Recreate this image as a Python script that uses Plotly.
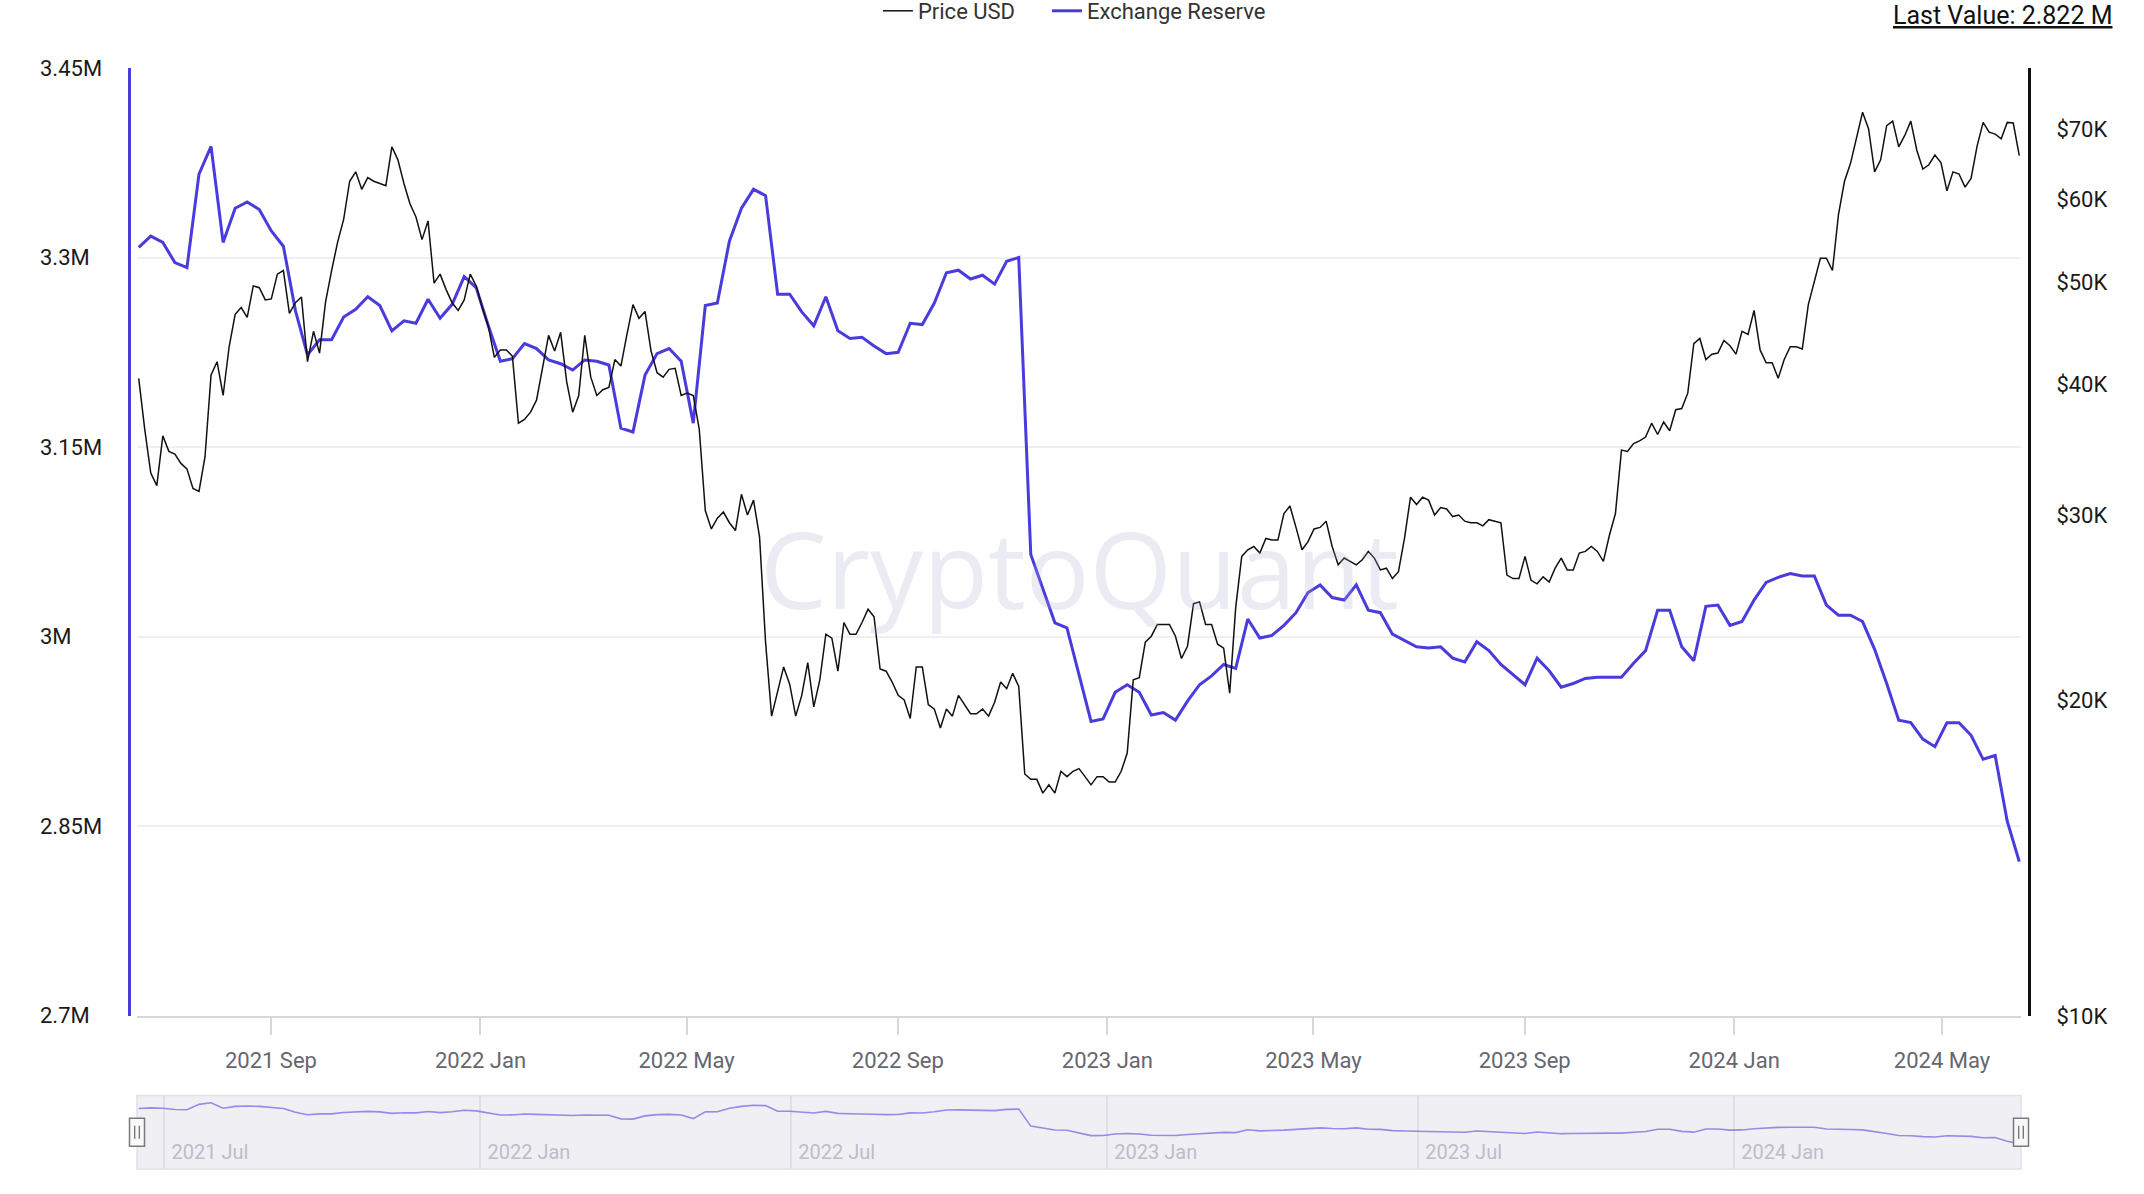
import numpy as np
import pandas as pd
import plotly.graph_objects as go

# weekly samples, mid-Jun 2021 .. mid-Jun 2024
dates = pd.date_range("2021-06-16", "2024-06-15", periods=157)

# BTC exchange reserve, millions of BTC
reserve_m = [
    3.308, 3.317, 3.312, 3.296, 3.292, 3.366, 3.388, 3.312, 3.339, 3.344,
    3.338, 3.321, 3.309, 3.258, 3.223, 3.235, 3.235, 3.253, 3.259, 3.269,
    3.262, 3.242, 3.250, 3.248, 3.267, 3.252, 3.263, 3.285, 3.276, 3.246,
    3.218, 3.220, 3.232, 3.228, 3.219, 3.216, 3.211, 3.219, 3.218, 3.215,
    3.165, 3.162, 3.207, 3.224, 3.228, 3.218, 3.169, 3.262, 3.264, 3.313,
    3.339, 3.354, 3.349, 3.271, 3.271, 3.257, 3.246, 3.269, 3.242, 3.236,
    3.237, 3.230, 3.224, 3.225, 3.248, 3.247, 3.264, 3.288, 3.290, 3.283,
    3.286, 3.279, 3.297, 3.300, 3.065, 3.038, 3.011, 3.007, 2.970, 2.933,
    2.935, 2.956, 2.962, 2.956, 2.938, 2.940, 2.934, 2.949, 2.962, 2.969,
    2.978, 2.975, 3.014, 2.999, 3.001, 3.009, 3.019, 3.035, 3.041, 3.031,
    3.029, 3.041, 3.021, 3.019, 3.002, 2.997, 2.992, 2.991, 2.992, 2.983,
    2.980, 2.996, 2.989, 2.978, 2.970, 2.962, 2.983, 2.973, 2.960, 2.963,
    2.967, 2.968, 2.968, 2.968, 2.979, 2.989, 3.021, 3.021, 2.992, 2.981,
    3.024, 3.025, 3.009, 3.012, 3.029, 3.043, 3.047, 3.050, 3.048, 3.048,
    3.025, 3.017, 3.017, 3.012, 2.990, 2.963, 2.934, 2.932, 2.919, 2.913,
    2.932, 2.932, 2.922, 2.903, 2.906, 2.854, 2.822,
]

# BTC price, thousands of USD, on the same weekly dates
price_k = [
    40.5, 32.9, 35.7, 34.3, 33.2, 31.6, 40.8, 39.0, 46.6, 46.3,
    49.4, 48.2, 51.3, 47.8, 42.0, 42.8, 51.3, 57.4, 63.7, 62.9,
    62.1, 67.3, 62.1, 57.7, 57.2, 50.9, 47.8, 48.1, 49.6, 45.4,
    43.1, 42.5, 37.0, 38.6, 44.5, 44.8, 37.6, 44.5, 39.0, 39.7,
    41.6, 47.6, 46.9, 41.0, 41.3, 39.0, 39.0, 30.3, 29.8, 29.5,
    31.4, 31.0, 22.7, 20.4, 20.7, 20.2, 19.7, 23.1, 21.3, 23.1,
    23.7, 24.0, 21.3, 20.2, 19.2, 21.5, 19.6, 19.6, 20.2, 19.4,
    19.6, 19.9, 20.5, 20.6, 16.8, 16.3, 16.3, 16.9, 17.2, 16.6,
    16.9, 16.7, 17.8, 21.0, 23.0, 23.6, 23.0, 22.5, 24.8, 23.6,
    22.4, 24.5, 27.8, 27.6, 28.4, 30.1, 29.2, 28.3, 29.2, 28.0,
    27.3, 26.9, 27.7, 26.6, 26.1, 28.5, 30.7, 31.0, 30.5, 29.9,
    29.6, 29.5, 29.7, 29.5, 26.1, 27.4, 25.8, 25.9, 27.3, 26.6,
    27.7, 27.7, 28.7, 34.6, 35.1, 35.6, 35.8, 36.1, 37.9, 43.7,
    42.2, 42.8, 43.5, 44.9, 47.0, 41.9, 40.5, 43.4, 43.2, 50.2,
    52.7, 58.0, 64.9, 72.6, 63.7, 70.5, 67.3, 71.2, 64.1, 66.1,
    61.1, 63.4, 62.8, 71.0, 69.2, 71.0, 66.0,
]

# BTC price, thousands of USD, half way between the weekly dates
price_k_mid = [
    36.2, 32.0, 34.5, 33.6, 31.8, 34.1, 42.0, 43.4, 47.3, 49.6,
    48.1, 50.9, 46.7, 48.4, 44.9, 47.9, 54.6, 62.4, 61.3, 62.4,
    61.8, 65.4, 59.4, 54.9, 49.9, 49.2, 47.0, 50.9, 47.3, 42.4,
    43.1, 36.7, 37.6, 41.4, 43.0, 40.2, 39.0, 40.6, 39.5, 42.2,
    44.6, 46.2, 43.0, 40.6, 41.4, 39.2, 36.2, 29.1, 30.2, 29.0,
    30.0, 28.6, 19.3, 21.5, 19.3, 21.7, 20.9, 22.9, 23.7, 23.1,
    24.4, 21.4, 20.8, 20.0, 21.5, 19.8, 18.8, 19.3, 19.8, 19.4,
    19.3, 20.8, 21.2, 17.0, 16.8, 16.6, 17.1, 17.1, 16.9, 16.9,
    16.7, 17.1, 20.9, 22.7, 23.6, 23.6, 21.9, 24.7, 23.6, 22.6,
    20.3, 27.4, 28.0, 28.5, 28.4, 30.6, 27.8, 29.1, 29.6, 26.9,
    27.1, 27.2, 27.3, 26.7, 26.5, 31.2, 31.2, 30.0, 30.4, 30.0,
    29.5, 29.3, 29.6, 26.3, 26.1, 26.0, 26.2, 26.7, 26.6, 27.6,
    28.0, 27.1, 30.1, 34.5, 35.3, 36.7, 36.8, 37.8, 39.2, 44.2,
    42.7, 44.0, 42.7, 44.6, 43.1, 41.9, 42.2, 43.4, 47.6, 52.7,
    51.3, 62.4, 68.8, 70.0, 65.4, 71.2, 69.0, 66.8, 64.7, 65.0,
    63.7, 61.6, 67.4, 69.5, 68.5, 70.9,
]

reserve_ticks = [2.7, 2.85, 3.0, 3.15, 3.3, 3.45]
reserve_labels = ["2.7M", "2.85M", "3M", "3.15M", "3.3M", "3.45M"]
price_ticks = [10, 20, 30, 40, 50, 60, 70]
price_labels = ["$10K", "$20K", "$30K", "$40K", "$50K", "$60K", "$70K"]
x_range = ["2021-06-15", "2024-06-16"]

# merge the weekly and mid-week price readings into one series
mid_dates = dates[:-1] + (dates[1:] - dates[:-1]) / 2
price = pd.Series(price_k, index=dates)
price = pd.concat([price, pd.Series(price_k_mid, index=mid_dates)]).sort_index()

BLUE = "#4a3bdd"
FONT = "Roboto"

fig = go.Figure()

fig.add_trace(go.Scatter(
    x=price.index, y=price.values, name="Price USD", yaxis="y2",
    mode="lines", line=dict(color="#111111", width=1.5),
    legendwidth=124,
))
fig.add_trace(go.Scatter(
    x=dates, y=reserve_m, name="Exchange Reserve", yaxis="y",
    mode="lines", line=dict(color=BLUE, width=3),
))
# navigator thumbnail
fig.add_trace(go.Scatter(
    x=dates, y=reserve_m, xaxis="x2", yaxis="y3", showlegend=False,
    mode="lines", line=dict(color="rgba(74,59,221,0.55)", width=1.6),
    hoverinfo="skip",
))

pad = 8 / 1900
fig.update_layout(
    width=2144, height=1194,
    margin=dict(l=129, r=115, t=68, b=19),
    paper_bgcolor="white", plot_bgcolor="white",
    font=dict(family=FONT, size=22, color="#1a1a1a"),
    showlegend=True,
    legend=dict(orientation="h", xref="paper", x=0.4976, xanchor="center",
                yref="container", y=1 - 11 / 1194, yanchor="middle",
                font=dict(size=22, color="#333333"), itemwidth=30,
                bgcolor="rgba(0,0,0,0)"),
    xaxis=dict(
        domain=[pad, 1 - pad], range=x_range, anchor="y",
        showgrid=False, zeroline=False,
        showline=True, linecolor="#d6d6df", linewidth=2,
        ticks="outside", ticklen=17, tickwidth=1.5, tickcolor="#d6d6df",
        dtick="M4", tick0="2021-01-01", tickformat="%Y %b",
        ticklabelstandoff=7,
        tickfont=dict(size=22, color="#66666f"),
    ),
    yaxis=dict(
        domain=[0.1391, 1], range=[2.7, 3.45],
        anchor="free", position=0,
        tickvals=reserve_ticks, showticklabels=False, ticks="",
        showgrid=True, gridcolor="#f0f0f2", gridwidth=1.5, zeroline=False,
        showline=True, linecolor=BLUE, linewidth=3,
    ),
    yaxis2=dict(
        overlaying="y", side="right", anchor="free", position=1,
        type="log", range=[1, np.log10(80)],
        tickvals=price_ticks, ticktext=price_labels, ticks="",
        ticklabelstandoff=21,
        tickfont=dict(size=22, color="#1a1a1a"),
        showgrid=False, zeroline=False,
        showline=True, linecolor="#111111", linewidth=3,
    ),
    xaxis2=dict(
        domain=[pad, 1 - pad], range=x_range, anchor="y3",
        showgrid=True, gridcolor="#dfdfe8", gridwidth=1.5, zeroline=False,
        showline=False, ticks="",
        dtick="M6", tick0="2021-01-01", tickformat="%Y %b",
        ticklabelposition="inside right", ticklabelshift=7,
        tickfont=dict(size=20, color="#bdbdc8"),
    ),
    yaxis3=dict(
        domain=[0, 0.0668], range=[2.47, 3.49], anchor="x2",
        showgrid=False, zeroline=False, showticklabels=False, ticks="",
    ),
)

# left axis labels, left aligned like the original
for v, t in zip(reserve_ticks, reserve_labels):
    fig.add_annotation(xref="paper", yref="y", x=-0.0479, y=v, text=t,
                       xanchor="left", yanchor="middle", showarrow=False,
                       font=dict(size=22, color="#1a1a1a"))

fig.add_annotation(xref="paper", yref="paper", x=1.0453, y=1.048,
                   text="<u>Last Value: %.3f M</u>" % reserve_m[-1],
                   xanchor="right", yanchor="middle", showarrow=False,
                   font=dict(size=25, color="#111111"))

# watermark
fig.add_annotation(xref="paper", yref="paper", x=0.5, y=0.546, text="CryptoQuant",
                   showarrow=False, xanchor="center", yanchor="middle",
                   font=dict(family="Open Sans", size=106, color="rgba(170,170,205,0.24)"))

# navigator background + handles
fig.add_shape(type="rect", xref="x2 domain", yref="y3 domain", x0=0, x1=1, y0=0, y1=1,
              fillcolor="#efeff4", line=dict(color="#e1e1e8", width=1.5), layer="below")
for xa in (0, 1):
    fig.add_shape(type="rect", xref="x2 domain", yref="y3 domain",
                  xsizemode="pixel", xanchor=xa, x0=-7.5, x1=7.5,
                  ysizemode="pixel", yanchor=0.5, y0=-14, y1=14,
                  fillcolor="#f8f8f8", line=dict(color="#7a7a7a", width=1.5))
    for dx in (-2.3, 2.3):
        fig.add_shape(type="line", xref="x2 domain", yref="y3 domain",
                      xsizemode="pixel", xanchor=xa, x0=dx, x1=dx,
                      ysizemode="pixel", yanchor=0.5, y0=-6.5, y1=6.5,
                      line=dict(color="#666666", width=1.2))

fig.write_html("out.html", config={"displayModeBar": False},
               post_script="document.body.style.margin='0';")
